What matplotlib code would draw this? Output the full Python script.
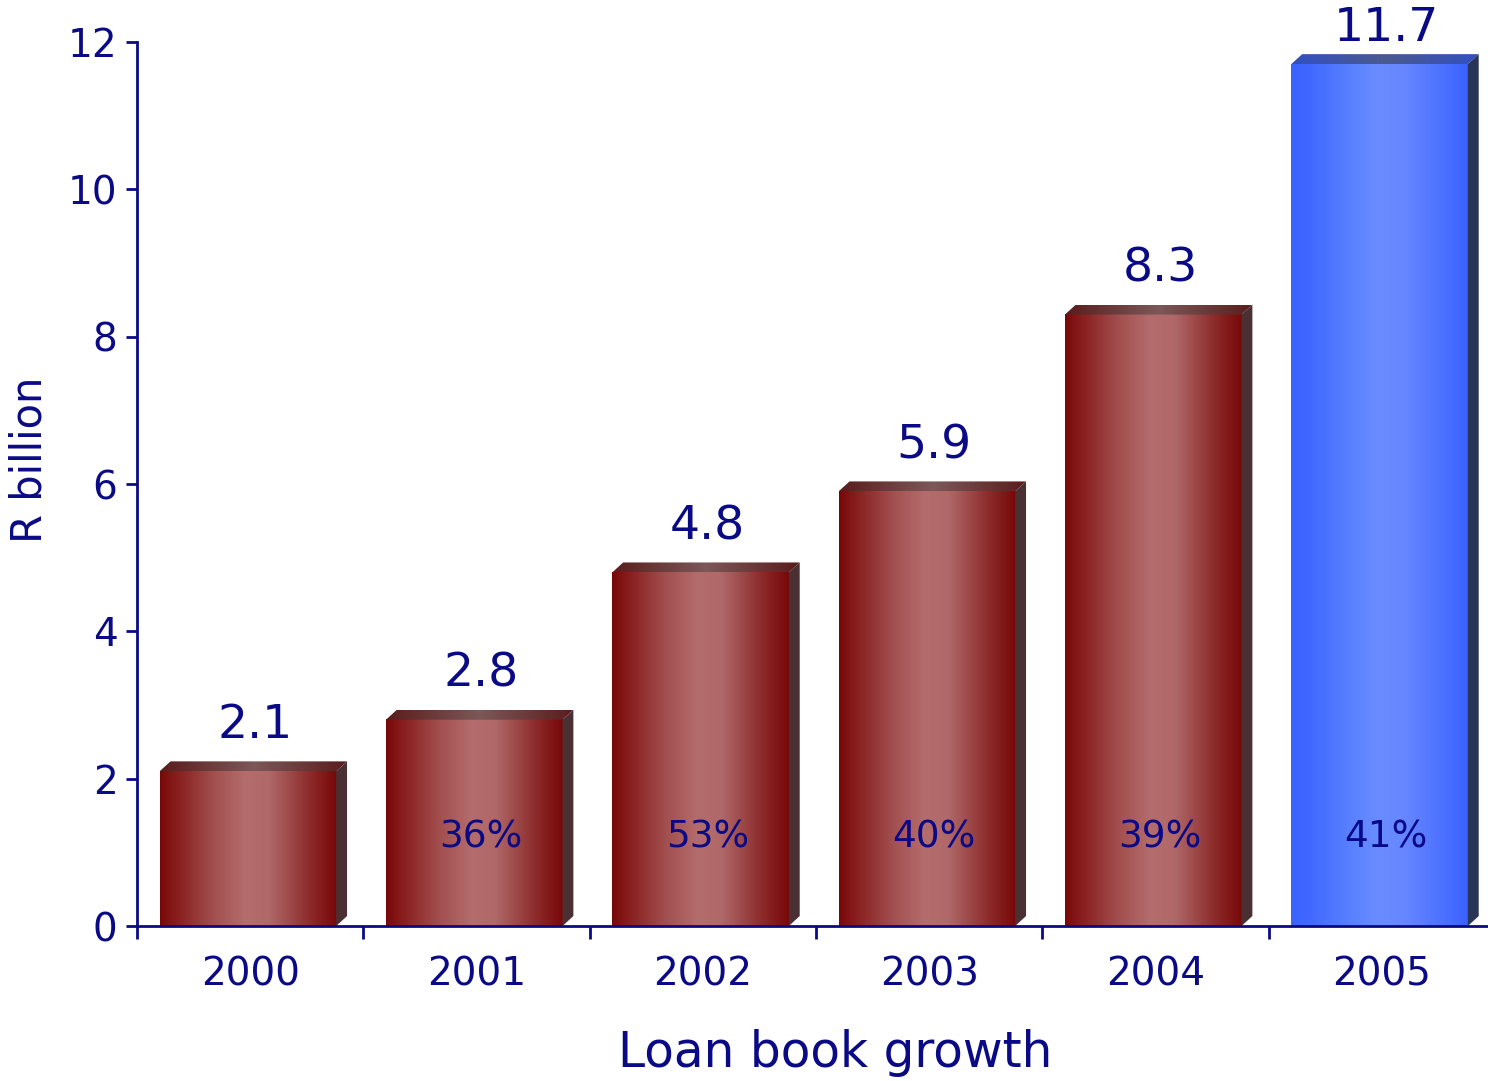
import numpy as np
import matplotlib
matplotlib.use("Agg")
import matplotlib.pyplot as plt
from matplotlib.colors import LinearSegmentedColormap
from matplotlib.patches import Polygon

# Loan book (R billion) and year-on-year growth
years = ["2000", "2001", "2002", "2003", "2004", "2005"]
values = [2.1, 2.8, 4.8, 5.9, 8.3, 11.7]
value_labels = ["2.1", "2.8", "4.8", "5.9", "8.3", "11.7"]
growth = ["", "36%", "53%", "40%", "39%", "41%"]
y_ticks = [0, 2, 4, 6, 8, 10, 12]

NAVY = "#0a0a86"
plt.rcParams["font.family"] = ["DejaVu Sans"]

fig = plt.figure(figsize=(14.88, 10.81), dpi=100)
ax = fig.add_axes([137 / 1488, 155 / 1081, 1358 / 1488, 884 / 1081])

# colour schemes: front gradient stops, top-face gradient stops, side colour
red_front = LinearSegmentedColormap.from_list(
    "redf", [(0.0, "#780808"), (0.08, "#861a1a"), (0.3, "#a24e4e"),
             (0.48, "#b46c6c"), (0.62, "#b06868"), (0.85, "#8c2a2a"), (1.0, "#780808")])
red_top = LinearSegmentedColormap.from_list(
    "redt", [(0.0, "#5a1c1c"), (0.5, "#7c5858"), (1.0, "#5a1c1c")])
blue_front = LinearSegmentedColormap.from_list(
    "bluef", [(0.0, "#3a62ff"), (0.1, "#4068ff"), (0.35, "#5a82ff"),
              (0.5, "#6a8cff"), (0.65, "#6586ff"), (0.88, "#4a6eff"), (1.0, "#3a62ff")])
blue_top = LinearSegmentedColormap.from_list(
    "bluet", [(0.0, "#3350c0"), (0.5, "#4a5a90"), (1.0, "#3350c0")])
styles = [(red_front, red_top, "#4a3032")] * 5 + [(blue_front, blue_top, "#283556")]

centers = np.arange(len(years)) + 0.49
width = 0.78
dx, dy = 0.048, 0.135  # depth of the 3D extrusion in data units

bars = ax.bar(centers, values, width=width, color="none", edgecolor="none", zorder=2)
grad = np.linspace(0, 1, 256).reshape(1, -1)
for bar, (cf, ct, cs) in zip(bars, styles):
    x0, w, h = bar.get_x(), bar.get_width(), bar.get_height()
    x1 = x0 + w
    # front face
    ax.imshow(grad, cmap=cf, extent=(x0, x1, 0, h), aspect="auto",
              interpolation="bilinear", zorder=2)
    # top face
    top = Polygon([(x0, h), (x0 + dx, h + dy), (x1 + dx, h + dy), (x1, h)],
                  closed=True, facecolor="none", edgecolor="none", zorder=2)
    ax.add_patch(top)
    im = ax.imshow(grad, cmap=ct, extent=(x0, x1 + dx, h, h + dy), aspect="auto",
                   interpolation="bilinear", zorder=2)
    im.set_clip_path(top)
    # side face
    side = Polygon([(x1, 0), (x1 + dx, dy), (x1 + dx, h + dy), (x1, h)],
                   closed=True, facecolor=cs, edgecolor="none", zorder=2)
    ax.add_patch(side)

for c, v, lab, g in zip(centers, values, value_labels, growth):
    # keep the label of the tallest bar inside the figure
    ly = min(v + 0.62, 12.18)
    ax.text(c + 0.03, ly, lab, ha="center", va="center", fontsize=34,
            color=NAVY, zorder=4, clip_on=False)
    if g:
        ax.text(c + 0.03, 1.2, g, ha="center", va="center", fontsize=27,
                color=NAVY, zorder=4)

ax.set_xlim(0, 6)
ax.set_ylim(0, 12)
ax.set_yticks(y_ticks)
ax.set_yticklabels([str(t) for t in y_ticks])
ax.set_xticks(np.arange(0, 7))
ax.set_xticklabels([])
ax.set_xticks(np.arange(len(years)) + 0.5, minor=True)
ax.set_xticklabels(years, minor=True)

for s in ["top", "right"]:
    ax.spines[s].set_visible(False)
for s in ["left", "bottom"]:
    ax.spines[s].set_color(NAVY)
    ax.spines[s].set_linewidth(2)
    ax.spines[s].set_zorder(3)

ax.tick_params(axis="y", which="major", direction="out", length=8, width=2,
               color=NAVY, labelcolor=NAVY, labelsize=28, pad=6)
ax.tick_params(axis="x", which="major", direction="out", length=9, width=2,
               color=NAVY)
ax.tick_params(axis="x", which="minor", length=0, labelcolor=NAVY,
               labelsize=28, pad=21)
ax.set_facecolor("white")

fig.text(30 / 1488, 1 - 460 / 1081, "R billion", rotation=90, ha="center",
         va="center", fontsize=30, color=NAVY)
fig.text(835 / 1488, 1 - 1053 / 1081, "Loan book growth", ha="center",
         va="center", fontsize=35, color=NAVY)

fig.savefig("out.png", dpi=100, facecolor="white")
